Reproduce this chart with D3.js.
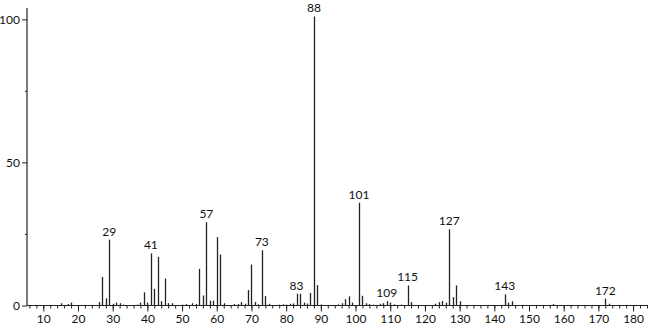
<!DOCTYPE html>
<html><head><meta charset="utf-8">
<script src="https://cdn.jsdelivr.net/npm/d3@7"></script>
<style>body{margin:0;background:#fff}svg{display:block}text{font-family:"Lato","Open Sans",sans-serif;font-size:12px;fill:#111}</style>
</head><body>
<svg id="c" width="650" height="328"></svg>
<script>
const mz = [15,17,18,26,27,28,29,30,31,32,33,37,38,39,40,41,42,43,44,45,46,47,50,51,53,54,55,56,57,58,59,60,61,62,65,66,67,68,69,70,71,72,73,74,75,78,79,80,81,82,83,84,85,86,87,88,89,90,95,96,97,98,99,101,102,103,104,105,107,108,109,110,111,113,115,116,123,124,125,126,127,128,129,130,143,144,145,157,172,173];
const intensity = [0.8,0.5,1.0,1.2,10,2.5,23,0.6,1.0,0.8,0.3,0.3,1.0,4.6,1.0,18.2,5.8,17,1.5,9.4,0.8,0.8,0.3,0.5,0.8,0.5,12.8,3.5,29.1,1.7,1.7,23.9,17.8,0.8,0.5,0.5,1.2,0.6,5.4,14.3,1.2,0.4,19.3,3.3,0.6,0.3,0.4,0.3,0.6,0.7,4.1,4.1,1.0,0.7,4.4,101,7.1,0.4,0.4,0.8,2.2,3.2,1.0,35.9,3.4,0.8,0.5,0.3,0.6,0.8,1.5,1.0,0.4,0.3,7,1.2,0.6,1.2,1.6,1.0,26.6,2.9,7,1.5,3.9,1.0,1.5,0.5,2.4,0.6];
const labeledPeaks = [29,41,57,73,83,88,101,109,115,127,143,172];
const xTicks = [10,20,30,40,50,60,70,80,90,100,110,120,130,140,150,160,170,180];
const yTicks = [0,50,100];

const svg = d3.select("#c");
const x = d3.scaleLinear().domain([5.3,184.3]).range([27,648]);
const y = d3.scaleLinear().domain([0,100]).range([305.5,19.3]);
const data = mz.map((m,i)=>({m, v:intensity[i]}));

// bars
svg.append("g").selectAll("line").data(data).join("line")
  .attr("x1",d=>Math.round(x(d.m))+0.5).attr("x2",d=>Math.round(x(d.m))+0.5)
  .attr("y1",y(0)).attr("y2",d=>y(d.v))
  .attr("stroke","#222").attr("stroke-width",1.3);

// x axis
const gx = svg.append("g").attr("transform",`translate(0,${y(0)})`);
gx.call(d3.axisBottom(x).tickValues(d3.range(6,185,2)).tickSize(3).tickFormat(""))
  .call(g=>g.select(".domain").remove());
gx.call(g=>g.append("g").call(d3.axisBottom(x).tickValues(xTicks).tickSize(6).tickPadding(3).tickFormat(d3.format("d"))));
gx.selectAll(".domain").remove();
gx.append("line").attr("x1",27).attr("x2",648).attr("stroke","#222").attr("stroke-width",1.2);
gx.selectAll(".tick line").attr("stroke","#222");
gx.selectAll("text").attr("font-size",12).style("font-family",null);

// y axis
const gy = svg.append("g").attr("transform","translate(27,0)");
gy.call(d3.axisLeft(y).tickValues([25,75]).tickSize(2).tickFormat(""));
gy.call(g=>g.append("g").call(d3.axisLeft(y).tickValues(yTicks).tickSize(5).tickPadding(2).tickFormat(d3.format("d"))));
gy.selectAll(".domain").remove();
gy.append("line").attr("y1",8).attr("y2",y(0)).attr("stroke","#222").attr("stroke-width",1.2);
gy.selectAll(".tick line").attr("stroke","#222");
gy.selectAll("text").attr("font-size",12).style("font-family",null);

// peak labels
svg.append("g").selectAll("text").data(data.filter(d=>labeledPeaks.includes(d.m))).join("text")
  .attr("x",d=>x(d.m)).attr("y",d=>y(d.v)-4)
  .attr("text-anchor","middle").text(d=>d.m);
</script>
</body></html>
